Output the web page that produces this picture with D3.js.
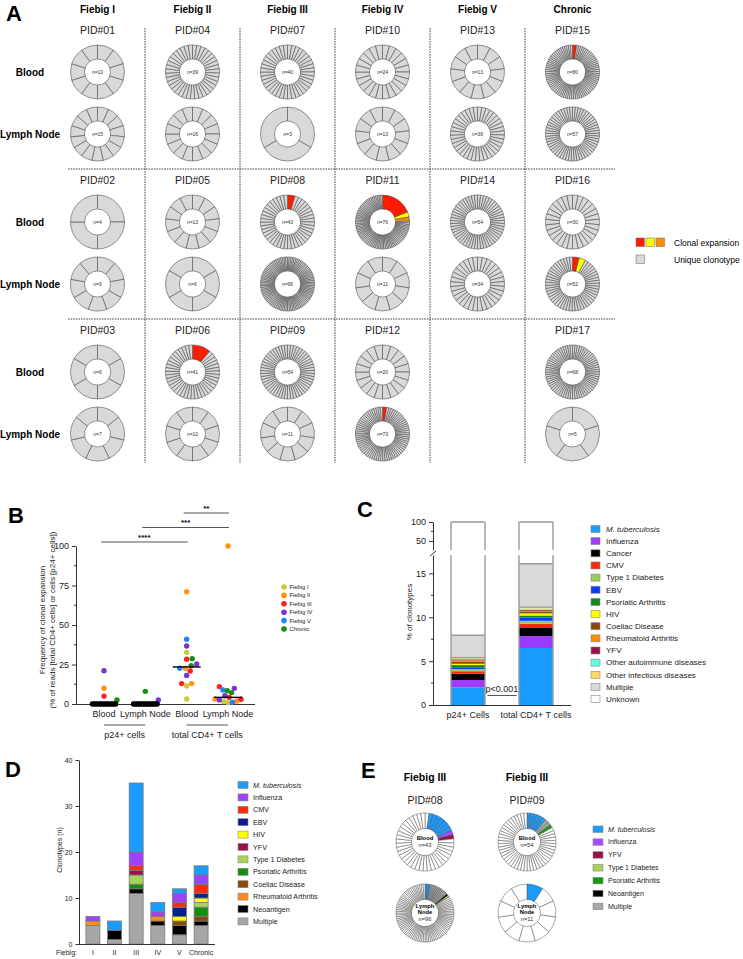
<!DOCTYPE html>
<html><head><meta charset="utf-8">
<script src="https://cdn.jsdelivr.net/npm/d3@7"></script>
<style>body{margin:0;background:#fff}svg{display:block;font-family:Arial,"Liberation Sans",Helvetica,sans-serif}</style>
</head><body><svg id="c" width="743" height="959"></svg>
<script>
// ================= Panel A data =================
const stages = ["Fiebig I","Fiebig II","Fiebig III","Fiebig IV","Fiebig V","Chronic"];
const tissues = ["Blood","Lymph Node"];
const pidNames = ["PID#01","PID#02","PID#03","PID#04","PID#05","PID#06","PID#07","PID#08","PID#09","PID#10","PID#11","PID#12","PID#13","PID#14","PID#15","PID#16","PID#17"];
const pidStage = ["Fiebig I","Fiebig I","Fiebig I","Fiebig II","Fiebig II","Fiebig II","Fiebig III","Fiebig III","Fiebig III","Fiebig IV","Fiebig IV","Fiebig IV","Fiebig V","Fiebig V","Chronic","Chronic","Chronic"];
const pidRow = [0,1,2,0,1,2,0,1,2,0,1,2,0,1,0,1,2];
const bloodN = [10,4,6,39,13,41,40,43,54,24,76,20,13,54,80,30,68];
const lymphN = [15,9,7,16,6,10,3,96,11,13,11,73,39,34,57,52,5];
const expansionPid = ["PID#15","PID#08","PID#11","PID#16","PID#06","PID#12"];
const expansionTissue = ["Blood","Blood","Blood","Lymph Node","Blood","Lymph Node"];
const expansionShares = [[0.025],[0.045],[0.19,0.03,0.025],[0.04,0.04],[0.11],[0.025]];
const expansionColors = ["#ff1a00","#ffff00","#ff8c00"];
const uniqueColor = "#d9d9d9";

// ================= Panel B data =================
const bColumns = ["p24 Blood","p24 Lymph Node","CD4 Blood","CD4 Lymph Node"];
const bColumnLabels = ["Blood","Lymph Node","Blood","Lymph Node"];
const bGroupLabels = ["p24+ cells","total CD4+ T cells"];
const bGroupCols = [[0,1],[2,3]];
const bStageColors = ["#c8cb3c","#ff9612","#ff1f1f","#7a34d6","#1c86ff","#138f13"];
const bP24Blood = [["Fiebig IV",21],["Fiebig II",10],["Fiebig III",5],["Chronic",2.5],["Fiebig I",0],["Fiebig I",0],["Fiebig I",0],["Fiebig II",0],["Fiebig II",0],["Fiebig III",0],["Fiebig III",0],["Fiebig IV",0],["Fiebig IV",0],["Fiebig V",0],["Fiebig V",0],["Chronic",0],["Chronic",0]];
const bP24Lymph = [["Fiebig IV",2.5],["Chronic",8],["Fiebig I",0],["Fiebig I",0],["Fiebig I",0],["Fiebig II",0],["Fiebig II",0],["Fiebig II",0],["Fiebig III",0],["Fiebig III",0],["Fiebig III",0],["Fiebig IV",0],["Fiebig IV",0],["Fiebig V",0],["Fiebig V",0],["Chronic",0],["Chronic",0]];
const bCD4Blood = [["Fiebig I",32.7],["Fiebig I",11.4],["Fiebig I",3.2],["Fiebig II",71],["Fiebig II",22.6],["Fiebig II",12.9],["Fiebig III",28.3],["Fiebig III",20.9],["Fiebig III",12.9],["Fiebig IV",36.7],["Fiebig IV",25.3],["Fiebig IV",18.1],["Fiebig V",41],["Fiebig V",22.6],["Chronic",28.7],["Chronic",24.3]];
const bCD4Lymph = [["Fiebig I",1.5],["Fiebig I",0.9],["Fiebig II",100],["Fiebig II",3.2],["Fiebig II",1.8],["Fiebig III",11],["Fiebig III",4.2],["Fiebig III",3.0],["Fiebig IV",9.9],["Fiebig IV",5.3],["Fiebig IV",2.6],["Fiebig V",8.9],["Fiebig V",1.1],["Chronic",8.4],["Chronic",7.2]];
const bSignifLabels = ["****","***","**"];
const bSignifPairs = [[0,2],[1,3],[2,3]];
const bTicks = [0,25,50,75,100];

// ================= Panel C data =================
const cBars = ["p24+ Cells","total CD4+ T cells"];
const cCategories = ["M. tuberculosis","Influenza","Cancer","CMV","Type 1 Diabetes","EBV","Psoriatic Arthritis","HIV","Coeliac Disease","Rheumatoid Arthritis","YFV","Other autoimmune diseases","Other infectious diseases","Multiple","Unknown"];
const cColors = ["#1a9cff","#9b3cff","#000000","#ff2a0d","#99cc5c","#0a3cff","#138a13","#ffff00","#8b4a0a","#ff8c00","#99104d","#66ffdd","#ffd966","#d9d9d9","#ffffff"];
const cP24 = [2.0,0.85,0.7,0.3,0.25,0.2,0.25,0.15,0.2,0.2,0.1,0.1,0.1,2.55,92.05];
const cCD4 = [6.5,1.35,1.0,0.4,0.35,0.35,0.25,0.25,0.15,0.15,0.1,0.15,0.15,4.95,83.9];
const cLowerTicks = [0,5,10,15];
const cUpperTicks = [50,100];

// ================= Panel D data =================
const dFiebig = ["I","II","III","IV","V","Chronic"];
const dSeries = ["Multiple","Neoantigen","Rheumatoid Arthritis","Coeliac Disease","Psoriatic Arthritis","Type 1 Diabetes","YFV","HIV","EBV","CMV","Influenza","M. tuberculosis"];
const dColors = ["#a6a6a6","#000000","#ff8c1a","#8b4a0a","#138f13","#a6d55a","#99104d","#ffff00","#0a1f8f","#ff2a0d","#a040ff","#1a9cff"];
const dMultiple = [4,1,11,4,2,4];
const dNeoantigen = [0,2,1,1,2,1];
const dRA = [1,0,0,1,0,0];
const dCoeliac = [0,0,0,0,1,1];
const dPsA = [0,0,1,0,0,2];
const dT1D = [0,0,2,0,0,1];
const dYFV = [0,0,1,0,0,0];
const dHIV = [0,0,0,0,1,1];
const dEBV = [0,0,0,0,2,1];
const dCMV = [0,0,1,0,1,2];
const dInfluenza = [1,0,3,1,2,2];
const dMtb = [0,2,15,2,1,2];
const dLegend = ["M. tuberculosis","Influenza","CMV","EBV","HIV","YFV","Type 1 Diabetes","Psoriatic Arthritis","Coeliac Disease","Rheumatoid Arthritis","Neoantigen","Multiple"];
const dTicks = [0,10,20,30,40];

// ================= Panel E data =================
const ePids = ["PID#08","PID#09"];
const eTissues = ["Blood","Lymph Node"];
const eN = [[43,96],[54,11]];
const eSegments = [
  [[["Unknown",1],["M. tuberculosis",7],["Influenza",1],["YFV",1]],
   [["M. tuberculosis",3],["Multiple",10],["Neoantigen",1],["Type 1 Diabetes",1]]],
  [[["M. tuberculosis",6],["Multiple",2],["Psoriatic Arthritis",1]],
   [["M. tuberculosis",1]]]
];
const eLegend = ["M. tuberculosis","Influenza","YFV","Type 1 Diabetes","Psoriatic Arthritis","Neoantigen","Multiple"];
const eColors = ["#1a9cff","#a64dff","#99104d","#a8d05a","#119b11","#000000","#a6a6a6"];

// ================= drawing =================
const svg = d3.select("#c");
svg.append("rect").attr("width",743).attr("height",959).attr("fill","#fff");
function letter(t,x,y){svg.append("text").attr("x",x).attr("y",y).attr("font-size",22).attr("font-weight","bold").text(t);}

// ---------- Panel A ----------
letter("A",6,21);
const gA = svg.append("g");
const colA = d3.scaleBand().domain(stages).range([50,620]);
const rowA = d3.scaleBand().domain([0,1,2]).range([19,469]);
const dash = {stroke:"#333","stroke-width":0.9,"stroke-dasharray":"1.6,1"};
stages.forEach(s=>{
  gA.append("text").attr("x",colA(s)+colA.bandwidth()/2).attr("y",13).attr("text-anchor","middle")
    .attr("font-size",10).attr("font-weight","bold").text(s);
});
stages.slice(1).forEach(s=>{
  const l=gA.append("line").attr("x1",colA(s)).attr("x2",colA(s)).attr("y1",28).attr("y2",463);
  Object.entries(dash).forEach(([k,v])=>l.attr(k,v));
});
[1,2].forEach(r=>{
  const l=gA.append("line").attr("x1",68).attr("x2",615).attr("y1",rowA(r)).attr("y2",rowA(r));
  Object.entries(dash).forEach(([k,v])=>l.attr(k,v));
});
const tissueOffset = {"Blood":53,"Lymph Node":115};
[0,1,2].forEach(r=>{
  tissues.forEach(t=>{
    gA.append("text").attr("x",30).attr("y",rowA(r)+tissueOffset[t]+3.5).attr("text-anchor","middle")
      .attr("font-size",10).attr("font-weight","bold").text(t);
  });
});
const arcA = d3.arc().innerRadius(13).outerRadius(27);
function pieVals(n, shares, colors){
  const k=shares.length, rest=(1-d3.sum(shares))/(n-k);
  const vals = shares.map((s,i)=>({v:s,fill:colors[i]})).concat(d3.range(n-k).map(()=>({v:rest,fill:uniqueColor})));
  return d3.pie().sort(null).value(d=>d.v)(vals);
}
pidNames.forEach((p,i)=>{
  const cx = colA(pidStage[i])+colA.bandwidth()/2, top=rowA(pidRow[i]);
  gA.append("text").attr("x",cx).attr("y",top+15).attr("text-anchor","middle").attr("font-size",10.5).attr("fill","#222").text(p);
  tissues.forEach(t=>{
    const n = t==="Blood"?bloodN[i]:lymphN[i];
    const ei = expansionPid.findIndex((e,j)=>e===p && expansionTissue[j]===t);
    const shares = ei>=0?expansionShares[ei]:[];
    const g = gA.append("g").attr("transform",`translate(${cx},${top+tissueOffset[t]})`);
    g.selectAll("path").data(pieVals(n,shares,expansionColors)).join("path").attr("d",arcA)
      .attr("fill",d=>d.data.fill).attr("stroke","#444").attr("stroke-width",0.55);
    g.append("text").attr("y",1.8).attr("text-anchor","middle").attr("font-size",5).attr("fill","#333").text("n="+n);
  });
});
// legend A
expansionColors.forEach((c,i)=>{
  gA.append("rect").attr("x",636+10*i).attr("y",238).attr("width",8.5).attr("height",8.5).attr("fill",c).attr("stroke","#777").attr("stroke-width",0.6);
});
gA.append("rect").attr("x",636).attr("y",255).attr("width",8.5).attr("height",8.5).attr("fill",uniqueColor).attr("stroke","#777").attr("stroke-width",0.6);
gA.append("text").attr("x",674).attr("y",245.5).attr("font-size",8.5).text("Clonal expansion");
gA.append("text").attr("x",674).attr("y",262.5).attr("font-size",8.5).text("Unique clonotype");

// ---------- Panel B ----------
letter("B",8,523);
const gB = svg.append("g");
const yB = d3.scaleLinear().domain([0,100]).range([704,546]);
const xB = d3.scalePoint().domain(bColumns).range([104,228]);
const axB = gB.append("g").attr("transform","translate(76,0)")
  .call(d3.axisLeft(yB).tickValues(bTicks).tickSize(4).tickSizeOuter(0));
axB.selectAll("text").attr("font-size",9).attr("fill","#222").attr("font-family","inherit");
axB.selectAll("path,line").attr("stroke","#333");
d3.range(12.5,100,25).forEach(v=>gB.append("line").attr("x1",74).attr("x2",76).attr("y1",yB(v)).attr("y2",yB(v)).attr("stroke","#333"));
gB.append("line").attr("x1",76).attr("x2",255).attr("y1",704.5).attr("y2",704.5).attr("stroke","#333");
bColumns.forEach((c,i)=>gB.append("text").attr("x",xB(c)).attr("y",717).attr("text-anchor","middle").attr("font-size",9).attr("fill","#222").text(bColumnLabels[i]));
bGroupLabels.forEach((lab,i)=>{
  const a=xB(bColumns[bGroupCols[i][0]]), b=xB(bColumns[bGroupCols[i][1]]);
  gB.append("line").attr("x1",a).attr("x2",b).attr("y1",725).attr("y2",725).attr("stroke","#555");
  gB.append("text").attr("x",(a+b)/2).attr("y",738).attr("text-anchor","middle").attr("font-size",9).attr("fill","#222").text(lab);
});
const yl = gB.append("text").attr("transform","translate(45,620) rotate(-90)").attr("text-anchor","middle").attr("font-size",8).attr("fill","#222");
yl.append("tspan").attr("x",0).attr("y",0).text("Frequency of clonal expansion");
yl.append("tspan").attr("x",0).attr("y",9.5).text("(% of reads [total CD4+ cells] or cells [p24+ cells])");
bSignifLabels.forEach((s,i)=>{
  const a=xB(bColumns[bSignifPairs[i][0]])-3, b=xB(bColumns[bSignifPairs[i][1]])+1;
  const y=542-14.5*i;
  gB.append("line").attr("x1",a).attr("x2",b).attr("y1",y).attr("y2",y).attr("stroke","#555");
  gB.append("text").attr("x",(a+b)/2).attr("y",y-2.5).attr("text-anchor","middle").attr("font-size",8).attr("font-weight","bold").text(s);
});
function swarm(points, r, maxHalf){
  const nodes = points.map(p=>({p, y:yB(p[1]), x:0}));
  const order = nodes.slice().sort((a,b)=>a.p[1]-b.p[1]);
  const placed=[];
  order.forEach(nd=>{
    for(let s=0;s<600;s++){
      const off=(s%2?1:-1)*Math.ceil(s/2)*0.5;
      if(placed.every(q=>{const dx=q.x-off,dy=q.y-nd.y;return dx*dx+dy*dy>=4*r*r;})){nd.x=off;break;}
    }
    placed.push(nd);
  });
  const m=d3.max(nodes,n=>Math.abs(n.x));
  const k=m>maxHalf?maxHalf/m:1;
  nodes.forEach(n=>n.x*=k);
  return nodes;
}
const bSets = [bP24Blood,bP24Lymph,bCD4Blood,bCD4Lymph];
const stageColor = d3.scaleOrdinal().domain(stages).range(bStageColors);
bSets.forEach((set,i)=>{
  const cx = xB(bColumns[i]);
  swarm(set,2.7,13).forEach(n=>{
    gB.append("circle").attr("cx",cx+n.x).attr("cy",n.y).attr("r",2.7).attr("fill",n.p[1]===0?"#000":stageColor(n.p[0]));
  });
  const med = d3.median(set,d=>d[1]);
  gB.append("line").attr("x1",cx-14).attr("x2",cx+14).attr("y1",yB(med)).attr("y2",yB(med)).attr("stroke","#000").attr("stroke-width",1.4);
});
stages.forEach((s,i)=>{
  gB.append("circle").attr("cx",284).attr("cy",587+8.4*i).attr("r",2.8).attr("fill",bStageColors[i]);
  gB.append("text").attr("x",289.5).attr("y",589+8.4*i).attr("font-size",5.8).attr("fill","#222").text(s);
});

// ---------- Panel C ----------
letter("C",357,517);
const gC = svg.append("g");
const yLo = d3.scaleLinear().domain([0,17.1]).range([705,555]);
const yUp = d3.scaleLinear().domain([26,100]).range([550,522]);
const xC = d3.scaleBand().domain(cBars).range([433,571]).paddingInner(0.5).paddingOuter(0.265);
const axLo = gC.append("g").attr("transform","translate(433,0)").call(d3.axisLeft(yLo).tickValues(cLowerTicks).tickSize(4).tickSizeOuter(0));
const axUp = gC.append("g").attr("transform","translate(433,0)").call(d3.axisLeft(yUp).tickValues(cUpperTicks).tickSize(4).tickSizeOuter(0));
[axLo,axUp].forEach(a=>{a.selectAll("text").attr("font-size",9).attr("fill","#222").attr("font-family","inherit");a.selectAll("path,line").attr("stroke","#333");});
[2.5,7.5,12.5].forEach(v=>gC.append("line").attr("x1",431).attr("x2",433).attr("y1",yLo(v)).attr("y2",yLo(v)).attr("stroke","#333"));
gC.append("line").attr("x1",431).attr("x2",433).attr("y1",yUp(75)).attr("y2",yUp(75)).attr("stroke","#333");
gC.append("line").attr("x1",430).attr("x2",436).attr("y1",556).attr("y2",551).attr("stroke","#333");
gC.append("line").attr("x1",433).attr("x2",571).attr("y1",705.5).attr("y2",705.5).attr("stroke","#333");
const cRows = cBars.map((b,i)=>{const o={bar:b};cCategories.forEach((c,j)=>o[c]=(i===0?cP24:cCD4)[j]);return o;});
const cStack = d3.stack().keys(cCategories)(cRows);
const clamp=(v,a,b)=>Math.max(a,Math.min(b,v));
cStack.forEach((ser,j)=>{
  ser.forEach(d=>{
    const x=xC(d.data.bar), w=xC.bandwidth();
    [[yLo,0,17.1],[yUp,26,100]].forEach(([sc,lo,hi])=>{
      const a=clamp(d[0],lo,hi), b=clamp(d[1],lo,hi);
      if(b>a) gC.append("rect").attr("x",x).attr("width",w).attr("y",sc(b)).attr("height",sc(a)-sc(b)).attr("fill",cColors[j]);
    });
  });
});
const mIdx = cCategories.indexOf("Multiple");
cBars.forEach((b,i)=>{
  const x=xC(b), w=xC.bandwidth(), st="#999";
  [x,x+w].forEach(xx=>{
    gC.append("line").attr("x1",xx).attr("x2",xx).attr("y1",yLo(0)).attr("y2",yLo(17.1)).attr("stroke",st).attr("stroke-width",1.4);
    gC.append("line").attr("x1",xx).attr("x2",xx).attr("y1",yUp(26)).attr("y2",yUp(100)).attr("stroke",st).attr("stroke-width",1.4);
  });
  gC.append("line").attr("x1",x).attr("x2",x+w).attr("y1",yUp(100)).attr("y2",yUp(100)).attr("stroke",st).attr("stroke-width",1.4);
  const seg = cStack[mIdx][i];
  [seg[0],seg[1]].forEach(v=>gC.append("line").attr("x1",x).attr("x2",x+w).attr("y1",yLo(v)).attr("y2",yLo(v)).attr("stroke",st).attr("stroke-width",1.3));
});
cBars.forEach(b=>gC.append("text").attr("x",xC(b)+xC.bandwidth()/2).attr("y",718).attr("text-anchor","middle").attr("font-size",9).attr("fill","#222").text(b));
const pMid=(xC(cBars[0])+xC.bandwidth()+xC(cBars[1]))/2;
gC.append("text").attr("x",pMid).attr("y",692).attr("text-anchor","middle").attr("font-size",9).attr("fill","#222").text("p<0.001");
gC.append("line").attr("x1",pMid-14.5).attr("x2",pMid+14.5).attr("y1",695.5).attr("y2",695.5).attr("stroke","#555");
gC.append("text").attr("transform","translate(412,612) rotate(-90)").attr("text-anchor","middle").attr("font-size",8).attr("fill","#222").text("% of clonotypes");
cCategories.forEach((c,i)=>{
  const y=529+12.15*i;
  gC.append("rect").attr("x",591).attr("y",y-3.5).attr("width",9).attr("height",7).attr("fill",cColors[i]).attr("stroke","#888").attr("stroke-width",0.6);
  gC.append("text").attr("x",606).attr("y",y+2.8).attr("font-size",8).attr("fill","#222").attr("font-style",i===0?"italic":null).text(c);
});

// ---------- Panel D ----------
letter("D",5,777);
const gD = svg.append("g");
const yD = d3.scaleLinear().domain([0,40]).range([944,760]);
const xD = d3.scaleBand().domain(dFiebig).range([79,215]).paddingInner(0.355).paddingOuter(0.32);
const dValues = [dMultiple,dNeoantigen,dRA,dCoeliac,dPsA,dT1D,dYFV,dHIV,dEBV,dCMV,dInfluenza,dMtb];
const dRows = dFiebig.map((f,i)=>{const o={f};dSeries.forEach((s,j)=>o[s]=dValues[j][i]);return o;});
const dStack = d3.stack().keys(dSeries)(dRows);
dStack.forEach((ser,j)=>{
  gD.selectAll(null).data(ser.filter(d=>d[1]>d[0])).join("rect")
    .attr("x",d=>xD(d.data.f)).attr("width",xD.bandwidth()).attr("y",d=>yD(d[1])).attr("height",d=>yD(d[0])-yD(d[1]))
    .attr("fill",dColors[j]).attr("stroke","#7a7a7a").attr("stroke-width",0.8);
});
const axD = gD.append("g").attr("transform","translate(79,0)").call(d3.axisLeft(yD).tickValues(dTicks).tickSize(3.5).tickSizeOuter(0));
axD.selectAll("text").attr("font-size",7).attr("fill","#222").attr("font-family","inherit");
axD.selectAll("path,line").attr("stroke","#333");
gD.append("line").attr("x1",79).attr("x2",215).attr("y1",944.5).attr("y2",944.5).attr("stroke","#333");
dFiebig.forEach(f=>gD.append("text").attr("x",xD(f)+xD.bandwidth()/2).attr("y",955).attr("text-anchor","middle").attr("font-size",7).attr("fill","#222").text(f));
gD.append("text").attr("x",77).attr("y",955).attr("text-anchor","end").attr("font-size",7).attr("fill","#222").text("Fiebig:");
gD.append("text").attr("transform","translate(62,850) rotate(-90)").attr("text-anchor","middle").attr("font-size",7).attr("fill","#222").text("Clonotypes (n)");
const dColorOf = d3.scaleOrdinal().domain(dSeries).range(dColors);
dLegend.forEach((s,i)=>{
  const y=785+12.4*i;
  gD.append("rect").attr("x",238).attr("y",y-3.5).attr("width",10).attr("height",7).attr("fill",dColorOf(s)).attr("stroke","#888").attr("stroke-width",0.6);
  gD.append("text").attr("x",253).attr("y",y+2.6).attr("font-size",7.2).attr("fill","#222").attr("font-style",i===0?"italic":null).text(s);
});

// ---------- Panel E ----------
letter("E",361,778);
const gE = svg.append("g");
const xE = d3.scalePoint().domain(ePids).range([425,527]);
const yE = d3.scalePoint().domain(eTissues).range([842,913]);
const eColorOf = d3.scaleOrdinal().domain(eLegend.concat(["Unknown"])).range(eColors.concat(["#ffffff"]));
const arcE = d3.arc().innerRadius(13.5).outerRadius(29);
ePids.forEach((p,i)=>{
  gE.append("text").attr("x",xE(p)).attr("y",781).attr("text-anchor","middle").attr("font-size",10.5).attr("font-weight","bold").text("Fiebig III");
  gE.append("text").attr("x",xE(p)).attr("y",804).attr("text-anchor","middle").attr("font-size",10.5).attr("fill","#222").text(p);
  eTissues.forEach((t,k)=>{
    const n=eN[i][k];
    const list=[];
    eSegments[i][k].forEach(([c,cnt])=>{for(let q=0;q<cnt;q++)list.push(c);});
    while(list.length<n) list.push("Unknown");
    const g=gE.append("g").attr("transform",`translate(${xE(p)},${yE(t)})`);
    g.selectAll("path").data(d3.pie().sort(null).value(1)(list)).join("path").attr("d",arcE)
      .attr("fill",d=>eColorOf(d.data)).attr("stroke","#555").attr("stroke-width",0.5);
    const lines = t==="Blood"?["Blood"]:["Lymph","Node"];
    const y0 = -(lines.length)*3.3+1.5;
    lines.forEach((l,m)=>g.append("text").attr("y",y0+m*6.2).attr("text-anchor","middle").attr("font-size",5.8).attr("font-weight","bold").text(l));
    g.append("text").attr("y",y0+lines.length*6.2+0.5).attr("text-anchor","middle").attr("font-size",5.8).attr("fill","#333").text("n="+n);
  });
});
eLegend.forEach((s,i)=>{
  const y=829+12.85*i;
  gE.append("rect").attr("x",593).attr("y",y-3).attr("width",10).attr("height",6.5).attr("fill",eColors[i]).attr("stroke","#888").attr("stroke-width",0.6);
  gE.append("text").attr("x",608).attr("y",y+2.6).attr("font-size",7).attr("fill","#222").attr("font-style",i===0?"italic":null).text(s);
});
</script></body></html>
